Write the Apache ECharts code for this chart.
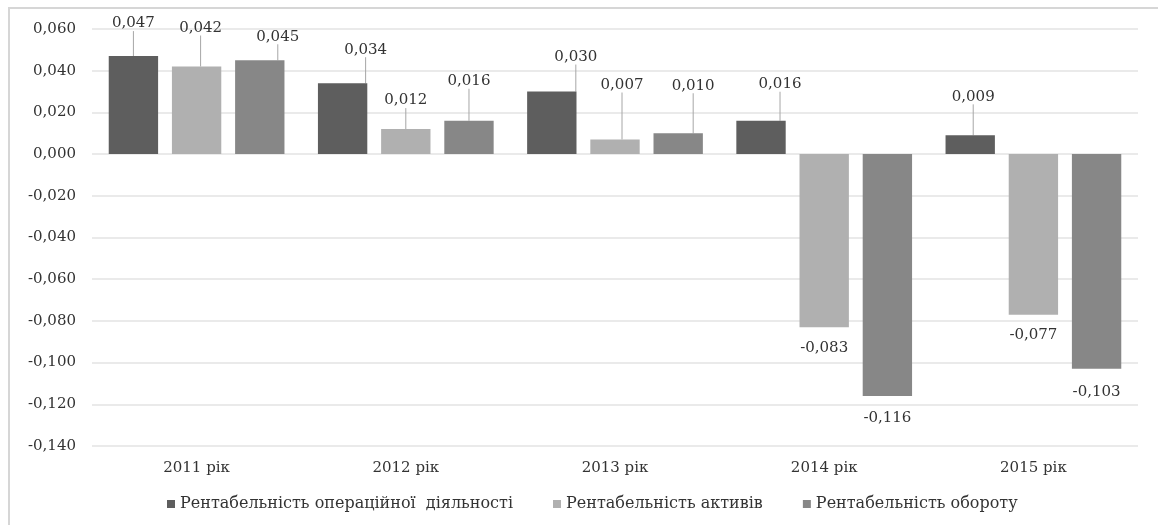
<!DOCTYPE html>
<html>
<head>
<meta charset="utf-8">
<script src="https://cdn.jsdelivr.net/npm/echarts@6/dist/echarts.min.js"></script>
<style>
html,body{margin:0;padding:0;background:#fff;}
#chart{width:1158px;height:525px;}
#frame{position:absolute;left:8px;top:7px;width:1160px;height:530px;border-left:2px solid #d6d6d6;border-top:2px solid #d6d6d6;pointer-events:none;}
</style>
</head>
<body>
<div id="chart"></div>
<div id="frame"></div>
<script>
const categories = ['2011 рік', '2012 рік', '2013 рік', '2014 рік', '2015 рік'];
const seriesNames = ['Рентабельність операційної  діяльності', 'Рентабельність активів', 'Рентабельність обороту'];
const operatingProfitability = [0.047, 0.034, 0.030, 0.016, 0.009];
const assetProfitability = [0.042, 0.012, 0.007, -0.083, -0.077];
const turnoverProfitability = [0.045, 0.016, 0.010, -0.116, -0.103];
const yTicks = { min: -0.14, max: 0.06, interval: 0.02 };

// label callout offsets (style only), [dx, dy] per series per category
const labelOffsets = [
  [[0, -20], [23, -21], [24, -22], [19, -24], [3, -26]],
  [[4, -26], [0, -16], [7, -42], [0, 8], [0, 8]],
  [[18, -11], [0, -27], [15, -35], [0, 10], [0, 11]]
];
const colors = ['#5e5e5e', '#b0b0b0', '#878787'];
const textColor = '#333333';
const fontFamily = '"DejaVu Serif", serif';
const fmt = v => (v < 0 ? '-' : '') + Math.abs(v).toFixed(3).replace('.', ',');

const allData = [operatingProfitability, assetProfitability, turnoverProfitability];

const chart = echarts.init(document.getElementById('chart'), null, { renderer: 'canvas' });
chart.setOption({
  animation: false,
  backgroundColor: '#ffffff',
  textStyle: { fontFamily: fontFamily },
  grid: { left: 92, right: 20, top: 29, bottom: 79, containLabel: false },
  legend: {
    left: 162, top: 491,
    icon: 'rect', itemWidth: 8, itemHeight: 8, itemGap: 40,
    textStyle: { fontFamily: fontFamily, fontSize: 16, color: textColor },
    data: seriesNames
  },
  xAxis: {
    type: 'category',
    data: categories,
    axisLine: { show: false },
    axisTick: { show: false },
    axisLabel: { fontFamily: fontFamily, fontSize: 15, color: textColor, margin: 15 }
  },
  yAxis: {
    type: 'value',
    min: yTicks.min, max: yTicks.max, interval: yTicks.interval,
    axisLine: { show: false },
    axisTick: { show: false },
    splitLine: { lineStyle: { color: '#e3e3e3', width: 1.5 } },
    axisLabel: { fontFamily: fontFamily, fontSize: 15, color: textColor, margin: 16, formatter: fmt }
  },
  series: allData.map((arr, si) => ({
    name: seriesNames[si],
    type: 'bar',
    barGap: '28%',
    barCategoryGap: '16%',
    itemStyle: { color: colors[si] },
    data: arr.map(v => ({ value: v, labelLine: { show: v >= 0 } })),
    label: {
      show: true, position: 'outside', distance: 5,
      fontFamily: fontFamily, fontSize: 15, color: textColor,
      formatter: p => fmt(p.value)
    },
    labelLine: { show: true, lineStyle: { color: '#a6a6a6', width: 1 } },
    labelLayout: p => ({ dx: labelOffsets[si][p.dataIndex][0], dy: labelOffsets[si][p.dataIndex][1] })
  }))
});
</script>
</body>
</html>
